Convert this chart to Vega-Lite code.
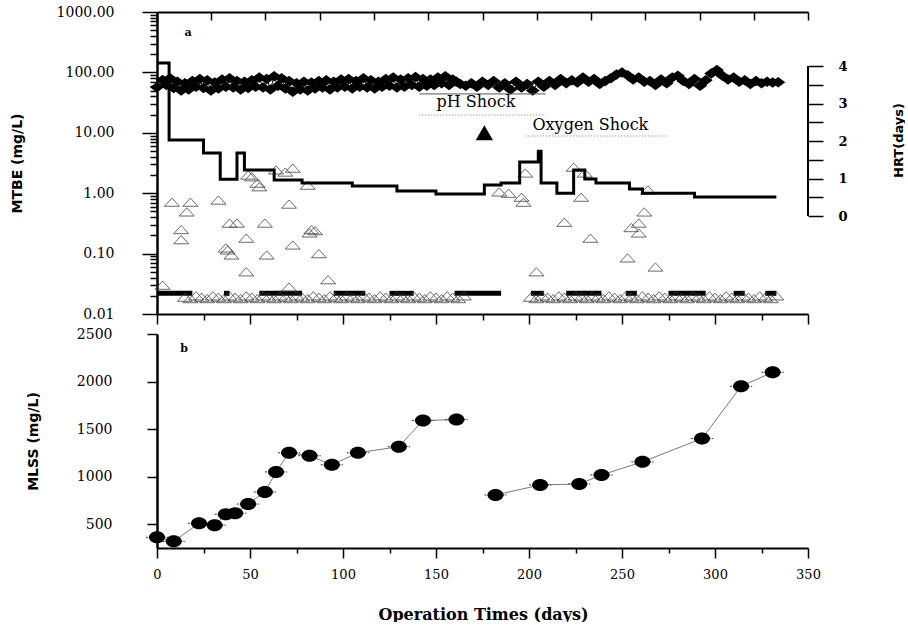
{
  "$schema": "https://vega.github.io/schema/vega-lite/v6.json",
  "padding": {"left": 10, "top": 5, "right": 0, "bottom": 0},
  "background": "white",
  "spacing": 2,
  "config": {
    "view": {"stroke": null},
    "axis": {"grid": false, "domainColor": "black", "tickColor": "black", "labelColor": "black", "titleColor": "black",
      "labelFont": "DejaVu Serif", "labelFontSize": 14, "titleFont": "DejaVu Sans", "titleFontSize": 13, "titleFontWeight": "normal",
      "labelOverlap": false, "labelBound": false, "labelFlush": false, "domainWidth": 2, "tickWidth": 1.5}
  },
  "datasets": {
    "inf": [
      {"day":0,"mtbe":57},{"day":3,"mtbe":75},{"day":5,"mtbe":62},{"day":7,"mtbe":80},{"day":9,"mtbe":55},{"day":11,"mtbe":70},{"day":13,"mtbe":50},{"day":15,"mtbe":66},{"day":17,"mtbe":52},{"day":19,"mtbe":72},
      {"day":21,"mtbe":58},{"day":23,"mtbe":78},{"day":25,"mtbe":55},{"day":27,"mtbe":74},{"day":29,"mtbe":50},{"day":31,"mtbe":68},{"day":33,"mtbe":54},{"day":35,"mtbe":76},{"day":37,"mtbe":58},{"day":39,"mtbe":80},
      {"day":41,"mtbe":56},{"day":43,"mtbe":72},{"day":45,"mtbe":52},{"day":47,"mtbe":70},{"day":49,"mtbe":55},{"day":51,"mtbe":74},{"day":53,"mtbe":58},{"day":55,"mtbe":82},{"day":57,"mtbe":56},{"day":59,"mtbe":78},
      {"day":61,"mtbe":52},{"day":63,"mtbe":86},{"day":65,"mtbe":60},{"day":67,"mtbe":80},{"day":69,"mtbe":54},{"day":71,"mtbe":72},{"day":73,"mtbe":48},{"day":75,"mtbe":66},{"day":77,"mtbe":52},{"day":79,"mtbe":70},
      {"day":81,"mtbe":50},{"day":83,"mtbe":68},{"day":85,"mtbe":54},{"day":87,"mtbe":72},{"day":89,"mtbe":56},{"day":91,"mtbe":74},{"day":93,"mtbe":52},{"day":95,"mtbe":70},{"day":97,"mtbe":56},{"day":99,"mtbe":76},
      {"day":101,"mtbe":58},{"day":103,"mtbe":78},{"day":105,"mtbe":54},{"day":107,"mtbe":72},{"day":109,"mtbe":58},{"day":111,"mtbe":80},{"day":113,"mtbe":56},{"day":115,"mtbe":74},{"day":117,"mtbe":54},{"day":119,"mtbe":70},
      {"day":121,"mtbe":58},{"day":123,"mtbe":78},{"day":125,"mtbe":60},{"day":127,"mtbe":82},{"day":129,"mtbe":56},{"day":131,"mtbe":76},{"day":133,"mtbe":58},{"day":135,"mtbe":80},{"day":137,"mtbe":62},{"day":139,"mtbe":84},
      {"day":141,"mtbe":58},{"day":143,"mtbe":78},{"day":145,"mtbe":60},{"day":147,"mtbe":76},{"day":149,"mtbe":62},{"day":151,"mtbe":82},{"day":153,"mtbe":66},{"day":155,"mtbe":86},{"day":157,"mtbe":62},{"day":159,"mtbe":76},
      {"day":161,"mtbe":70},{"day":163,"mtbe":64},{"day":166,"mtbe":60},{"day":169,"mtbe":66},{"day":172,"mtbe":58},{"day":175,"mtbe":70},{"day":178,"mtbe":62},{"day":181,"mtbe":72},{"day":184,"mtbe":56},{"day":187,"mtbe":66},
      {"day":190,"mtbe":52},{"day":193,"mtbe":70},{"day":196,"mtbe":56},{"day":199,"mtbe":64},{"day":202,"mtbe":50},{"day":205,"mtbe":70},{"day":208,"mtbe":58},{"day":211,"mtbe":72},{"day":214,"mtbe":62},{"day":217,"mtbe":78},
      {"day":220,"mtbe":66},{"day":223,"mtbe":74},{"day":226,"mtbe":68},{"day":229,"mtbe":82},{"day":232,"mtbe":70},{"day":235,"mtbe":78},{"day":238,"mtbe":64},{"day":241,"mtbe":72},{"day":244,"mtbe":80},{"day":247,"mtbe":92},
      {"day":250,"mtbe":100},{"day":253,"mtbe":90},{"day":256,"mtbe":76},{"day":259,"mtbe":82},{"day":262,"mtbe":70},{"day":265,"mtbe":72},{"day":268,"mtbe":62},{"day":271,"mtbe":76},{"day":274,"mtbe":66},{"day":277,"mtbe":82},
      {"day":280,"mtbe":88},{"day":283,"mtbe":72},{"day":286,"mtbe":64},{"day":289,"mtbe":78},{"day":292,"mtbe":60},{"day":295,"mtbe":74},{"day":298,"mtbe":96},{"day":301,"mtbe":110},{"day":304,"mtbe":88},{"day":307,"mtbe":76},
      {"day":310,"mtbe":82},{"day":313,"mtbe":70},{"day":316,"mtbe":74},{"day":319,"mtbe":64},{"day":322,"mtbe":72},{"day":325,"mtbe":66},{"day":328,"mtbe":70},{"day":331,"mtbe":68},{"day":334,"mtbe":69}
    ],
    "eff": [
      {"day":3,"mtbe":0.03},{"day":8,"mtbe":0.71},{"day":13,"mtbe":0.25},{"day":13,"mtbe":0.17},{"day":16,"mtbe":0.49},{"day":18,"mtbe":0.71},{"day":33,"mtbe":0.77},{"day":37,"mtbe":0.124},{"day":38,"mtbe":0.115},{"day":39,"mtbe":0.32},
      {"day":40,"mtbe":0.095},{"day":43,"mtbe":0.32},{"day":48,"mtbe":0.18},{"day":48,"mtbe":0.05},{"day":49,"mtbe":2.0},{"day":51,"mtbe":1.87},{"day":54,"mtbe":1.47},{"day":55,"mtbe":1.28},{"day":58,"mtbe":0.32},{"day":59,"mtbe":0.095},
      {"day":64,"mtbe":2.43},{"day":69,"mtbe":2.24},{"day":71,"mtbe":0.66},{"day":71,"mtbe":0.028},{"day":73,"mtbe":2.6},{"day":73,"mtbe":0.139},{"day":81,"mtbe":1.36},{"day":82,"mtbe":0.22},{"day":83,"mtbe":0.25},{"day":85,"mtbe":0.24},
      {"day":87,"mtbe":0.1},{"day":92,"mtbe":0.037},{"day":184,"mtbe":1.05},{"day":189,"mtbe":1.0},{"day":196,"mtbe":0.86},{"day":197,"mtbe":0.71},{"day":198,"mtbe":2.16},{"day":204,"mtbe":0.05},{"day":219,"mtbe":0.33},{"day":224,"mtbe":2.7},
      {"day":228,"mtbe":0.86},{"day":230,"mtbe":2.16},{"day":233,"mtbe":0.18},{"day":253,"mtbe":0.085},{"day":255,"mtbe":0.27},{"day":259,"mtbe":0.32},{"day":259,"mtbe":0.22},{"day":262,"mtbe":0.49},{"day":264,"mtbe":1.13},{"day":268,"mtbe":0.06},
      {"day":15,"mtbe":0.019},{"day":18,"mtbe":0.018},{"day":21,"mtbe":0.02},{"day":24,"mtbe":0.019},{"day":27,"mtbe":0.018},{"day":30,"mtbe":0.02},{"day":33,"mtbe":0.019},{"day":36,"mtbe":0.018},{"day":39,"mtbe":0.02},{"day":42,"mtbe":0.019},
      {"day":45,"mtbe":0.018},{"day":48,"mtbe":0.02},{"day":51,"mtbe":0.019},{"day":54,"mtbe":0.018},{"day":57,"mtbe":0.02},{"day":60,"mtbe":0.019},{"day":63,"mtbe":0.018},{"day":66,"mtbe":0.02},{"day":69,"mtbe":0.019},{"day":72,"mtbe":0.018},
      {"day":75,"mtbe":0.02},{"day":78,"mtbe":0.019},{"day":81,"mtbe":0.018},{"day":84,"mtbe":0.02},{"day":87,"mtbe":0.019},{"day":90,"mtbe":0.018},{"day":93,"mtbe":0.02},{"day":96,"mtbe":0.019},{"day":99,"mtbe":0.018},{"day":102,"mtbe":0.02},
      {"day":105,"mtbe":0.019},{"day":108,"mtbe":0.018},{"day":111,"mtbe":0.02},{"day":114,"mtbe":0.019},{"day":117,"mtbe":0.018},{"day":120,"mtbe":0.02},{"day":123,"mtbe":0.019},{"day":126,"mtbe":0.018},{"day":129,"mtbe":0.02},{"day":132,"mtbe":0.019},
      {"day":135,"mtbe":0.018},{"day":138,"mtbe":0.02},{"day":141,"mtbe":0.019},{"day":144,"mtbe":0.018},{"day":147,"mtbe":0.02},{"day":150,"mtbe":0.019},{"day":153,"mtbe":0.018},{"day":156,"mtbe":0.02},{"day":159,"mtbe":0.019},{"day":162,"mtbe":0.018},
      {"day":165,"mtbe":0.02},
      {"day":201,"mtbe":0.019},{"day":204,"mtbe":0.018},{"day":207,"mtbe":0.02},{"day":210,"mtbe":0.019},{"day":213,"mtbe":0.018},{"day":216,"mtbe":0.02},{"day":219,"mtbe":0.019},{"day":222,"mtbe":0.018},{"day":225,"mtbe":0.02},{"day":228,"mtbe":0.019},
      {"day":231,"mtbe":0.018},{"day":234,"mtbe":0.02},{"day":237,"mtbe":0.019},{"day":240,"mtbe":0.018},{"day":243,"mtbe":0.02},{"day":246,"mtbe":0.019},{"day":249,"mtbe":0.018},{"day":252,"mtbe":0.02},{"day":255,"mtbe":0.019},{"day":258,"mtbe":0.018},
      {"day":261,"mtbe":0.02},{"day":264,"mtbe":0.019},{"day":267,"mtbe":0.018},{"day":270,"mtbe":0.02},{"day":273,"mtbe":0.019},{"day":276,"mtbe":0.018},{"day":279,"mtbe":0.02},{"day":282,"mtbe":0.019},{"day":285,"mtbe":0.018},{"day":288,"mtbe":0.02},
      {"day":291,"mtbe":0.019},{"day":294,"mtbe":0.018},{"day":297,"mtbe":0.02},{"day":300,"mtbe":0.019},{"day":303,"mtbe":0.018},{"day":306,"mtbe":0.02},{"day":309,"mtbe":0.019},{"day":312,"mtbe":0.018},{"day":315,"mtbe":0.02},{"day":318,"mtbe":0.019},
      {"day":321,"mtbe":0.018},{"day":324,"mtbe":0.02},{"day":327,"mtbe":0.019},{"day":330,"mtbe":0.018},{"day":333,"mtbe":0.02}
    ],
    "det": [
      {"day":0,"mtbe":0.022,"seg":1},{"day":19,"mtbe":0.022,"seg":1},
      {"day":36,"mtbe":0.022,"seg":2},{"day":39,"mtbe":0.022,"seg":2},
      {"day":55,"mtbe":0.022,"seg":3},{"day":78,"mtbe":0.022,"seg":3},
      {"day":95,"mtbe":0.022,"seg":4},{"day":112,"mtbe":0.022,"seg":4},
      {"day":125,"mtbe":0.022,"seg":5},{"day":138,"mtbe":0.022,"seg":5},
      {"day":160,"mtbe":0.022,"seg":6},{"day":185,"mtbe":0.022,"seg":6},
      {"day":201,"mtbe":0.022,"seg":7},{"day":208,"mtbe":0.022,"seg":7},
      {"day":220,"mtbe":0.022,"seg":8},{"day":239,"mtbe":0.022,"seg":8},
      {"day":252,"mtbe":0.022,"seg":9},{"day":258,"mtbe":0.022,"seg":9},
      {"day":275,"mtbe":0.022,"seg":10},{"day":295,"mtbe":0.022,"seg":10},
      {"day":310,"mtbe":0.022,"seg":11},{"day":316,"mtbe":0.022,"seg":11},
      {"day":327,"mtbe":0.022,"seg":12},{"day":333,"mtbe":0.022,"seg":12}
    ],
    "hrt": [
      {"day":0,"hrt":4.08},{"day":6.5,"hrt":2.03},{"day":25,"hrt":1.68},{"day":34,"hrt":0.98},{"day":43,"hrt":1.68},{"day":47,"hrt":1.23},
      {"day":63,"hrt":0.96},{"day":78,"hrt":0.88},{"day":105,"hrt":0.8},{"day":129,"hrt":0.67},{"day":150,"hrt":0.59},{"day":176,"hrt":0.83},
      {"day":185,"hrt":0.88},{"day":195,"hrt":1.44},{"day":205,"hrt":1.73},{"day":206.5,"hrt":0.88},{"day":215,"hrt":0.61},{"day":224,"hrt":1.23},
      {"day":230,"hrt":0.99},{"day":236,"hrt":0.88},{"day":254,"hrt":0.72},{"day":261,"hrt":0.61},{"day":289,"hrt":0.51},{"day":333,"hrt":0.51}
    ],
    "mlss": [
      {"day":0,"mlss":362,"lo":-6,"hi":6,"seg":1},{"day":9,"mlss":320,"lo":3,"hi":15,"seg":1},{"day":22.6,"mlss":510,"lo":16.6,"hi":28.6,"seg":1},
      {"day":31,"mlss":490,"lo":25,"hi":37,"seg":1},{"day":37,"mlss":606,"lo":31,"hi":43,"seg":1},{"day":42,"mlss":616,"lo":36,"hi":48,"seg":1},
      {"day":49,"mlss":712,"lo":43,"hi":55,"seg":1},{"day":58,"mlss":839,"lo":52,"hi":64,"seg":1},{"day":64,"mlss":1050,"lo":58,"hi":70,"seg":1},
      {"day":71,"mlss":1251,"lo":65,"hi":77,"seg":1},{"day":82,"mlss":1220,"lo":76,"hi":88,"seg":1},{"day":94,"mlss":1124,"lo":88,"hi":100,"seg":1},
      {"day":108,"mlss":1251,"lo":102,"hi":114,"seg":1},{"day":130,"mlss":1315,"lo":124,"hi":136,"seg":1},{"day":143,"mlss":1590,"lo":137,"hi":149,"seg":1},
      {"day":161,"mlss":1600,"lo":155,"hi":167,"seg":1},
      {"day":182,"mlss":807,"lo":176,"hi":188,"seg":2},{"day":206,"mlss":913,"lo":200,"hi":212,"seg":2},{"day":227,"mlss":923,"lo":221,"hi":233,"seg":2},
      {"day":239,"mlss":1018,"lo":233,"hi":245,"seg":2},{"day":261,"mlss":1156,"lo":255,"hi":267,"seg":2},{"day":293,"mlss":1400,"lo":287,"hi":299,"seg":2},
      {"day":314,"mlss":1950,"lo":308,"hi":320,"seg":2},{"day":331,"mlss":2098,"lo":325,"hi":337,"seg":2}
    ]
  },
  "vconcat": [
    {
      "width": 651,
      "height": 302,
      "resolve": {"scale": {"y": "independent"}, "axis": {"x": "independent"}},
      "layer": [
        {
          "encoding": {
            "x": {"field": "day", "type": "quantitative", "scale": {"domain": [0, 350], "nice": false, "zero": false},
              "axis": {"orient": "bottom", "values": [0,25,50,75,100,125,150,175,200,225,250,275,300,325,350], "labels": false, "title": null,
                "tickSize": {"condition": {"test": "datum.value % 50 == 0", "value": 10}, "value": 6}}},
            "y": {"field": "mtbe", "type": "quantitative", "scale": {"type": "log", "domain": [0.01, 1000], "nice": false},
              "axis": {"values": [0.01,0.02,0.03,0.04,0.05,0.06,0.07,0.08,0.09,0.1,0.2,0.3,0.4,0.5,0.6,0.7,0.8,0.9,1,2,3,4,5,6,7,8,9,10,20,30,40,50,60,70,80,90,100,200,300,400,500,600,700,800,900,1000],
                "labelExpr": "indexof([0.01,0.1,1,10,100,1000], datum.value) >= 0 ? format(datum.value, '.2f') : ''",
                "tickSize": {"condition": {"test": "indexof([0.01,0.1,1,10,100,1000], datum.value) >= 0", "value": 15}, "value": 7},
                "labelPadding": 28, "domainWidth": 2.5,
                "title": "MTBE (mg/L)", "titleFont": "DejaVu Sans", "titleFontSize": 14, "titleFontWeight": "bold",
                "titleX": -140, "titleY": 151, "titleAngle": 270, "titleAlign": "center", "titleBaseline": "middle"}}
          },
          "layer": [
            {"data": {"name": "inf"}, "mark": {"type": "line", "color": "black", "strokeWidth": 1}},
            {"data": {"name": "inf"}, "mark": {"type": "point", "shape": "M0,-0.75L1,0L0,0.75L-1,0Z", "filled": true, "color": "black", "size": 196, "opacity": 1}},
            {"data": {"name": "det"}, "mark": {"type": "line", "color": "black", "strokeWidth": 5}, "encoding": {"detail": {"field": "seg"}}},
            {"data": {"name": "eff"}, "mark": {"type": "point", "shape": "M-1,0.55L0,-0.55L1,0.55Z", "filled": false, "color": "#444", "strokeWidth": 0.8, "size": 225, "opacity": 1}},
            {"data": {"values": [{"day": 141, "day2": 209, "mtbe": 44}]}, "mark": {"type": "rule", "color": "#555", "strokeWidth": 1}, "encoding": {"x2": {"field": "day2"}}},
            {"data": {"values": [{"day": 141, "day2": 209, "mtbe": 19.7}, {"day": 198, "day2": 275, "mtbe": 8.85}]}, "mark": {"type": "rule", "color": "#777", "strokeWidth": 1, "strokeDash": [1, 2]}, "encoding": {"x2": {"field": "day2"}}},
            {"data": {"values": [{"day": 171.5, "mtbe": 32, "label": "pH Shock"}, {"day": 233, "mtbe": 13.5, "label": "Oxygen Shock"}]}, "mark": {"type": "text", "font": "DejaVu Serif", "fontSize": 16, "color": "black"}, "encoding": {"text": {"field": "label"}}},
            {"data": {"values": [{"day": 176, "mtbe": 10}]}, "mark": {"type": "point", "shape": "triangle-up", "filled": true, "color": "black", "size": 300, "opacity": 1}},
            {"data": {"values": [{"day": 16.7, "mtbe": 450, "label": "a"}]}, "mark": {"type": "text", "font": "DejaVu Serif", "fontWeight": "bold", "fontSize": 11, "color": "black"}, "encoding": {"text": {"field": "label"}}}
          ]
        },
        {
          "encoding": {
            "x": {"field": "day", "type": "quantitative", "scale": {"domain": [0, 350], "nice": false, "zero": false},
              "axis": {"orient": "top", "values": [0,29.167,58.333,87.5,116.667,145.833,175,204.167,233.333,262.5,291.667,320.833,350], "labels": false, "title": null, "tickSize": -8, "domainWidth": 2}},
            "y": {"field": "hrt", "type": "quantitative", "scale": {"domain": [-2.613, 5.44], "nice": false, "zero": false},
              "axis": {"orient": "right", "values": [0,0.5,1,1.5,2,2.5,3,3.5,4], "labelExpr": "datum.value % 1 == 0 ? datum.label : ''",
                "domain": false, "tickSize": 15, "labelPadding": 15, "labelFontWeight": "bold", "labelFontSize": 13,
                "title": "HRT(days)", "titleFont": "DejaVu Sans", "titleFontSize": 13, "titleFontWeight": "bold", "titleX": 90, "titleY": 128, "titleAngle": 270, "titleAlign": "center", "titleBaseline": "middle"}}
          },
          "layer": [
            {"data": {"name": "hrt"}, "mark": {"type": "line", "interpolate": "step-after", "color": "black", "strokeWidth": 3}},
            {"data": {"values": [{"day": 350, "hrt": 0, "hrt2": 4}]}, "mark": {"type": "rule", "color": "black", "strokeWidth": 2}, "encoding": {"y2": {"field": "hrt2"}}}
          ]
        }
      ]
    },
    {
      "width": 651,
      "height": 214,
      "resolve": {"scale": {"y": "independent"}, "axis": {"x": "independent", "y": "independent"}},
      "layer": [
        {
          "encoding": {
            "x": {"field": "day", "type": "quantitative", "scale": {"domain": [0, 350], "nice": false, "zero": false},
              "axis": {"values": [0,25,50,75,100,125,150,175,200,225,250,275,300,325,350], "labelExpr": "datum.value % 50 == 0 ? datum.label : ''",
                "tickSize": {"condition": {"test": "datum.value % 50 == 0", "value": 10}, "value": 5}, "labelFontSize": 13,
                "labelBaseline": "line-top", "labelLineHeight": 28,
                "title": "Operation Times (days)", "titleFont": "DejaVu Serif", "titleFontWeight": "bold", "titleFontSize": 16,
                "titleX": 326, "titleY": 66, "titleBaseline": "middle", "titleAlign": "center"}},
            "y": {"field": "mlss", "type": "quantitative", "scale": {"domain": [250, 2500], "nice": false, "zero": false},
              "axis": {"values": [500, 1000, 1500, 2000, 2500], "labelExpr": "format(datum.value, 'd')",
                "tickSize": {"condition": {"test": "datum.value > 0", "value": 10}, "value": 10},
                "labelPadding": 35, "domainWidth": 2.5, "labelFontSize": 14,
                "title": "MLSS (mg/L)", "titleFont": "DejaVu Sans", "titleFontSize": 14, "titleFontWeight": "bold",
                "titleX": -124, "titleY": 107, "titleAngle": 270, "titleAlign": "center", "titleBaseline": "middle"}}
          },
          "layer": [
            {"data": {"name": "mlss"}, "mark": {"type": "line", "color": "#555", "strokeWidth": 0.8}, "encoding": {"detail": {"field": "seg"}}},
            {"data": {"name": "mlss"}, "mark": {"type": "rule", "color": "#333", "strokeWidth": 1, "strokeDash": [2, 1]}, "encoding": {"x": {"field": "lo", "type": "quantitative"}, "x2": {"field": "hi"}}},
            {"data": {"name": "mlss"}, "mark": {"type": "point", "shape": "M-1,0A1,0.75,0,1,0,1,0A1,0.75,0,1,0,-1,0Z", "filled": true, "color": "black", "size": 256, "opacity": 1}},
            {"data": {"values": [{"day": 14.5, "mlss": 2340, "label": "b"}]}, "mark": {"type": "text", "font": "DejaVu Serif", "fontWeight": "bold", "fontSize": 11, "color": "black"}, "encoding": {"text": {"field": "label"}}}
          ]
        }
      ]
    }
  ]
}
